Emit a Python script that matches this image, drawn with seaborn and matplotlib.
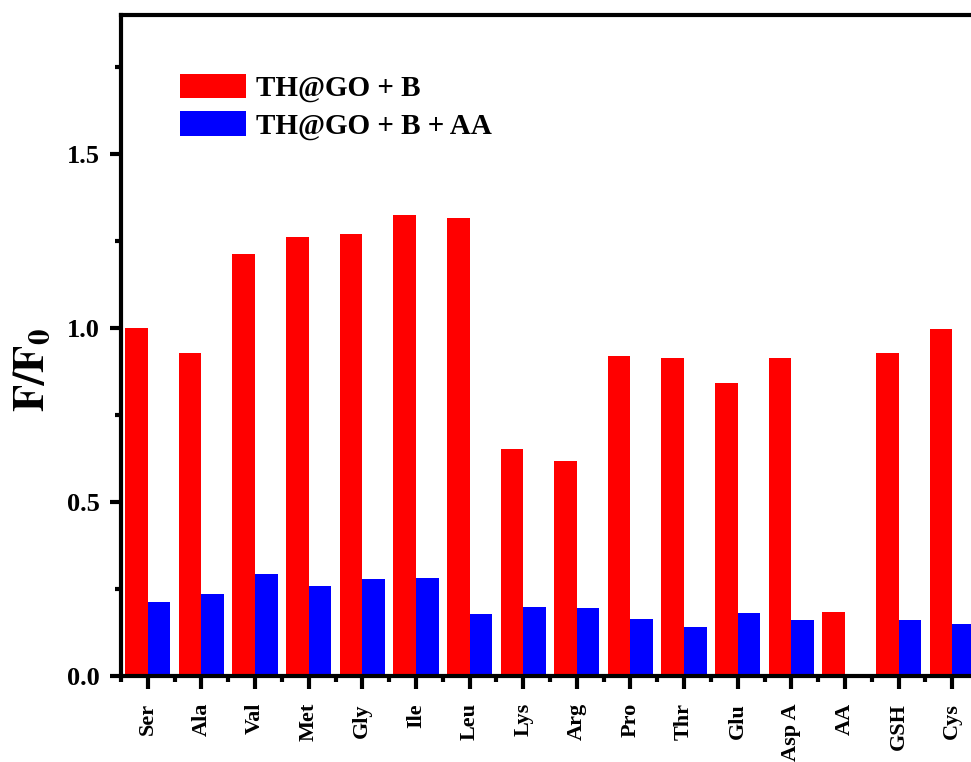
import numpy as np
import pandas as pd
import matplotlib
matplotlib.use("Agg")
import matplotlib.pyplot as plt
from matplotlib.patches import Patch
from matplotlib.ticker import MultipleLocator
import seaborn as sns

categories = ["Ser", "Ala", "Val", "Met", "Gly", "Ile", "Leu", "Lys", "Arg",
              "Pro", "Thr", "Glu", "Asp A", "AA", "GSH", "Cys"]
series_names = ["TH@GO + B", "TH@GO + B + AA"]
vals_b = [1.000, 0.928, 1.213, 1.261, 1.271, 1.324, 1.317, 0.653, 0.617,
          0.919, 0.913, 0.842, 0.913, 0.184, 0.929, 0.996]
vals_b_aa = [0.212, 0.235, 0.292, 0.258, 0.279, 0.282, 0.178, 0.198, 0.195,
             0.164, 0.141, 0.181, 0.160, np.nan, 0.160, 0.150]
colors = ["#ff0000", "#0000ff"]

df = pd.DataFrame({
    "cat": categories * 2,
    "series": [series_names[0]] * len(categories) + [series_names[1]] * len(categories),
    "val": vals_b + vals_b_aa,
})

sns.set_style("ticks")
plt.rcParams["font.family"] = ["Liberation Serif", "DejaVu Serif"]
plt.rcParams["font.weight"] = "bold"
plt.rcParams["text.color"] = "black"
plt.rcParams["axes.labelcolor"] = "black"
plt.rcParams["xtick.color"] = "black"
plt.rcParams["ytick.color"] = "black"
plt.rcParams["mathtext.fontset"] = "stix"

fig = plt.figure(figsize=(9.71, 7.62), dpi=100)
ax = fig.add_axes([121 / 971, 1 - 676 / 762, 858 / 971, (676 - 15) / 762])

sns.barplot(data=df, x="cat", y="val", hue="series", palette=colors,
            order=categories, hue_order=series_names, width=0.845, gap=0,
            saturation=1, edgecolor="none", linewidth=0, legend=False, ax=ax)

ax.set_xlim(-0.5, len(categories) - 0.5)
ax.set_ylim(0, 1.9)
ax.yaxis.set_major_locator(MultipleLocator(0.5))
ax.yaxis.set_minor_locator(MultipleLocator(0.25))
ax.set_yticks([0, 0.5, 1.0, 1.5])
ax.set_yticklabels(["0.0", "0.5", "1.0", "1.5"], fontsize=19, fontweight="bold")
ax.set_xticks(range(len(categories)))
ax.set_xticks(np.arange(-0.5, len(categories), 1.0), minor=True)
ax.set_xticklabels(categories, rotation=90, fontsize=16, fontweight="bold")

for s in ["left", "bottom", "top", "right"]:
    ax.spines[s].set_linewidth(3)
    ax.spines[s].set_color("black")

ax.tick_params(axis="y", which="major", direction="out", length=8, width=3,
               color="black", pad=7)
ax.tick_params(axis="both", which="minor", direction="out", length=4.3, width=3,
               color="black")
ax.tick_params(axis="x", which="major", direction="out", width=3, color="black",
               pad=10.5, length=9)

ax.set_xlabel("")
ax.set_ylabel(r"$\mathbf{F/F_0}$", fontsize=32)
ax.yaxis.set_label_coords(-0.079, 0.463)

handles = [Patch(facecolor=c, edgecolor="none") for c in colors]
ax.legend(handles, series_names, loc="upper left", bbox_to_anchor=(0.055, 0.929),
          frameon=False, prop={"weight": "bold", "size": 21},
          handlelength=2.26, handleheight=0.92, handletextpad=0.35, labelspacing=0.31,
          borderaxespad=0)

fig.savefig("out.png", dpi=100)
